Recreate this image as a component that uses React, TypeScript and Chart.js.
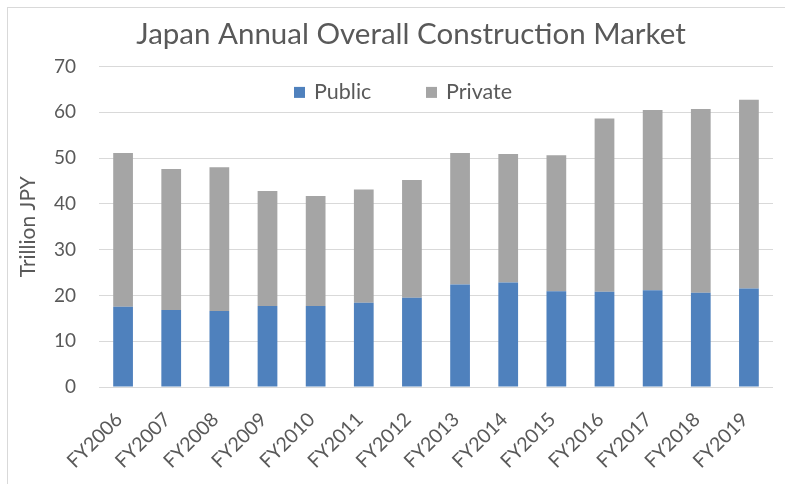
import React, { useEffect, useRef } from "react";
import { Chart, registerables } from "chart.js";

Chart.register(...registerables);

const categories = [
  "FY2006", "FY2007", "FY2008", "FY2009", "FY2010", "FY2011", "FY2012",
  "FY2013", "FY2014", "FY2015", "FY2016", "FY2017", "FY2018", "FY2019",
];
const publicValues = [17.5, 16.8, 16.6, 17.7, 17.7, 18.4, 19.5, 22.4, 22.8, 20.9, 20.8, 21.1, 20.6, 21.5];
const privateValues = [33.6, 30.8, 31.4, 25.1, 24.0, 24.7, 25.7, 28.7, 28.1, 29.7, 37.8, 39.4, 40.1, 41.2];
const yTicks = [0, 10, 20, 30, 40, 50, 60, 70];

const FONT = "Lato, 'Open Sans', sans-serif";
const TEXT = "#595959";
const GRID = "#d9d9d9";

const insideLegend = {
  id: "insideLegend",
  afterDraw(chart: any) {
    const { ctx, chartArea } = chart;
    const y = chartArea.top + 26;
    let x = 294;
    ctx.save();
    ctx.font = `21.5px ${FONT}`;
    ctx.textBaseline = "middle";
    ctx.textAlign = "left";
    chart.data.datasets.forEach((ds: any) => {
      ctx.fillStyle = ds.backgroundColor;
      ctx.fillRect(x, y - 5.5, 11, 11);
      ctx.fillStyle = TEXT;
      ctx.fillText(ds.label, x + 20, y);
      x += 132;
    });
    ctx.restore();
  },
};

export default function App() {
  const ref = useRef<HTMLCanvasElement>(null);
  useEffect(() => {
    if (!ref.current) return;
    const chart = new Chart(ref.current, {
      type: "bar",
      data: {
        labels: categories,
        datasets: [
          { label: "Public", data: publicValues, backgroundColor: "#4f81bd", barPercentage: 0.41, categoryPercentage: 1 },
          { label: "Private", data: privateValues, backgroundColor: "#a5a5a5", barPercentage: 0.41, categoryPercentage: 1 },
        ],
      },
      options: {
        animation: false,
        responsive: false,
        maintainAspectRatio: false,
        layout: { padding: { left: 49, right: 12, top: 0, bottom: 0 } },
        plugins: {
          legend: { display: false },
          tooltip: { enabled: false },
          title: {
            display: true,
            text: "Japan Annual Overall Construction Market",
            color: TEXT,
            font: { family: FONT, size: 29.5, weight: "normal" },
            padding: { top: 17, bottom: 14 },
          },
        },
        scales: {
          x: {
            stacked: true,
            grid: { display: false },
            border: { display: false },
            ticks: {
              color: TEXT,
              font: { family: FONT, size: 19.5 },
              minRotation: 45,
              maxRotation: 45,
              autoSkip: false,
              padding: 13,
              labelOffset: -4,
            },
            afterFit: (s: any) => { s.height = 97; },
          },
          y: {
            stacked: true,
            min: 0,
            max: 70,
            afterBuildTicks: (s: any) => { s.ticks = yTicks.map((v) => ({ value: v })); },
            grid: { color: GRID, lineWidth: 1, drawTicks: false },
            border: { display: false },
            ticks: { color: TEXT, font: { family: FONT, size: 19 }, padding: 23 },
            title: {
              display: true,
              text: "Trillion JPY",
              color: TEXT,
              font: { family: FONT, size: 21, weight: "normal" },
              padding: { top: -33, bottom: 0 },
            },
            afterFit: (s: any) => { s.width = 50; },
          },
        },
      },
      plugins: [insideLegend],
    });
    return () => chart.destroy();
  }, []);
  return (
    <div style={{ position: "absolute", left: 0, top: 0, width: 785, height: 484, background: "#fff", overflow: "hidden" }}>
      <canvas ref={ref} width={785} height={484} style={{ position: "absolute", left: 0, top: 0 }} />
      <div style={{ position: "absolute", left: 7, top: 7, width: 800, height: 500, borderLeft: `1px solid ${GRID}`, borderTop: `1px solid ${GRID}`, pointerEvents: "none" }} />
    </div>
  );
}
